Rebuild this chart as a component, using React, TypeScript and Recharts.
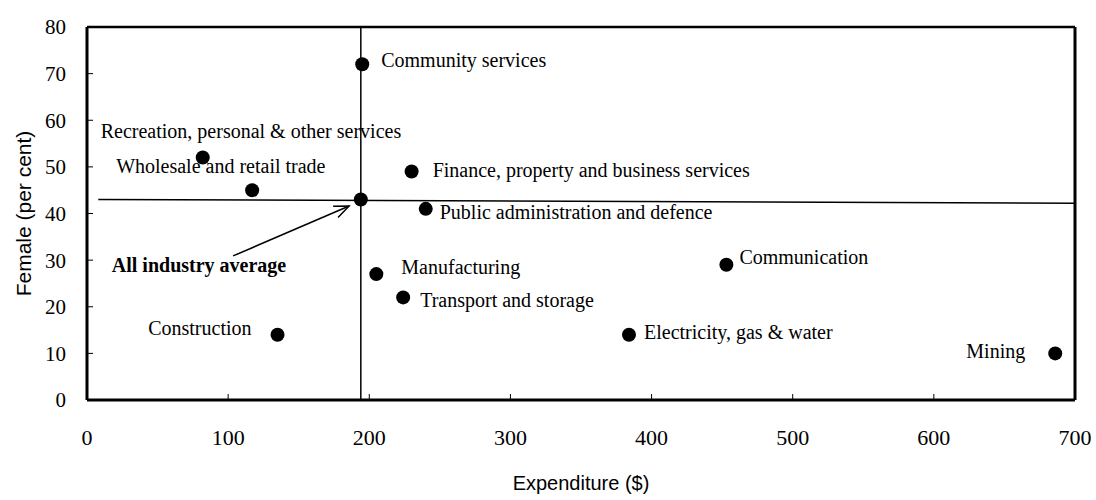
import React from 'react';
import { ScatterChart, Scatter, XAxis, YAxis, ReferenceLine, Label } from 'recharts';

// industry, average expenditure per employee ($), female share of employment (%)
const industries = [
  'Recreation, personal & other services',
  'Wholesale and retail trade',
  'Construction',
  'Community services',
  'All industry average',
  'Manufacturing',
  'Transport and storage',
  'Finance, property and business services',
  'Public administration and defence',
  'Electricity, gas & water',
  'Communication',
  'Mining',
];
const expenditure = [82, 117, 135, 195, 194, 205, 224, 230, 240, 384, 453, 686];
const femaleShare = [52, 45, 14, 72, 43, 27, 22, 49, 41, 14, 29, 10];

const xTicks = [0, 100, 200, 300, 400, 500, 600, 700];
const yTicks = [0, 10, 20, 30, 40, 50, 60, 70, 80];

const avgExpenditure = 194;
const avgFemale = 43;

const data = industries.map((name, i) => ({ name, x: expenditure[i], y: femaleShare[i] }));

// where each label sits relative to its dot
const labelPos: Record<string, { dx: number; dy: number; anchor: 'start' | 'end'; bold?: boolean }> = {
  'Recreation, personal & other services': { dx: -102, dy: -27, anchor: 'start' },
  'Wholesale and retail trade': { dx: -136, dy: -24, anchor: 'start' },
  'Construction': { dx: -26, dy: -7, anchor: 'end' },
  'Community services': { dx: 19, dy: -4, anchor: 'start' },
  'All industry average': { dx: -249, dy: 65, anchor: 'start', bold: true },
  'Manufacturing': { dx: 25, dy: -7, anchor: 'start' },
  'Transport and storage': { dx: 17, dy: 3, anchor: 'start' },
  'Finance, property and business services': { dx: 21, dy: -2, anchor: 'start' },
  'Public administration and defence': { dx: 14, dy: 3, anchor: 'start' },
  'Electricity, gas & water': { dx: 15, dy: -3, anchor: 'start' },
  'Communication': { dx: 13, dy: -8, anchor: 'start' },
  'Mining': { dx: -30, dy: -2, anchor: 'end' },
};

const serif = '"Liberation Serif", "Times New Roman", serif';
const sans = '"Liberation Sans", Arial, sans-serif';

const PointWithLabel = (props: any) => {
  const { cx, cy, payload } = props;
  const pos = labelPos[payload.name];
  return (
    <g>
      <circle cx={cx} cy={cy} r={7} fill="#000" />
      <text
        x={cx + pos.dx}
        y={cy + pos.dy}
        textAnchor={pos.anchor}
        dominantBaseline="central"
        fontFamily={serif}
        fontSize={20}
        fontWeight={pos.bold ? 'bold' : 'normal'}
        fill="#000"
      >
        {payload.name}
      </text>
    </g>
  );
};

const Arrow = (props: any) => {
  const { x1, y1, x2, y2 } = props;
  const ang = Math.atan2(y2 - y1, x2 - x1);
  const len = 16;
  const spread = 0.4;
  const ax = x2 - len * Math.cos(ang - spread);
  const ay = y2 - len * Math.sin(ang - spread);
  const bx = x2 - len * Math.cos(ang + spread);
  const by = y2 - len * Math.sin(ang + spread);
  return (
    <g stroke="#000" strokeWidth={1.5} fill="none">
      <line x1={x1} y1={y1} x2={x2} y2={y2} />
      <polyline points={`${ax},${ay} ${x2},${y2} ${bx},${by}`} />
    </g>
  );
};

export default function App() {
  return (
    <div style={{ position: 'absolute', left: 0, top: 0, background: '#fff' }}>
      <ScatterChart width={1096} height={500} margin={{ top: 27, right: 21, bottom: 0, left: 0 }}>
        <XAxis
          type="number"
          dataKey="x"
          domain={[0, 700]}
          ticks={xTicks}
          interval={0}
          height={100}
          axisLine={{ stroke: '#000', strokeWidth: 3 }}
          tickLine={{ stroke: '#000', strokeWidth: 1 }}
          tickSize={-6}
          tickMargin={35}
          tick={{ fill: '#000', fontFamily: serif, fontSize: 22 }}
        >
          <Label
            value="Expenditure ($)"
            position="insideBottom"
            offset={10}
            style={{ fill: '#000', fontFamily: sans, fontSize: 20 }}
          />
        </XAxis>
        <YAxis
          type="number"
          dataKey="y"
          domain={[0, 80]}
          ticks={yTicks}
          interval={0}
          width={87}
          axisLine={{ stroke: '#000', strokeWidth: 3 }}
          tickLine={{ stroke: '#000', strokeWidth: 1 }}
          tickSize={-6}
          tickMargin={27}
          tick={{ fill: '#000', fontFamily: serif, fontSize: 21 }}
        >
          <Label
            content={(p: any) => {
              const vb = p.viewBox;
              const cy = vb.y + vb.height / 2;
              return (
                <text
                  x={23}
                  y={cy}
                  transform={`rotate(-90, 23, ${cy})`}
                  textAnchor="middle"
                  dominantBaseline="central"
                  fontFamily={sans}
                  fontSize={21}
                  fill="#000"
                >
                  Female (per cent)
                </text>
              );
            }}
          />
        </YAxis>
        <ReferenceLine y={80} stroke="#000" strokeWidth={2.5} />
        <ReferenceLine x={700} stroke="#000" strokeWidth={3} />
        <ReferenceLine x={avgExpenditure} stroke="#000" strokeWidth={1.5} />
        <ReferenceLine
          segment={[{ x: 8, y: avgFemale }, { x: 700, y: avgFemale - 0.8 }]}
          stroke="#000"
          strokeWidth={1.5}
        />
        <ReferenceLine
          segment={[{ x: 103.5, y: 30.9 }, { x: 185.7, y: 41.6 }]}
          shape={Arrow}
        />
        <Scatter data={data} fill="#000" shape={PointWithLabel} isAnimationActive={false} />
      </ScatterChart>
    </div>
  );
}
